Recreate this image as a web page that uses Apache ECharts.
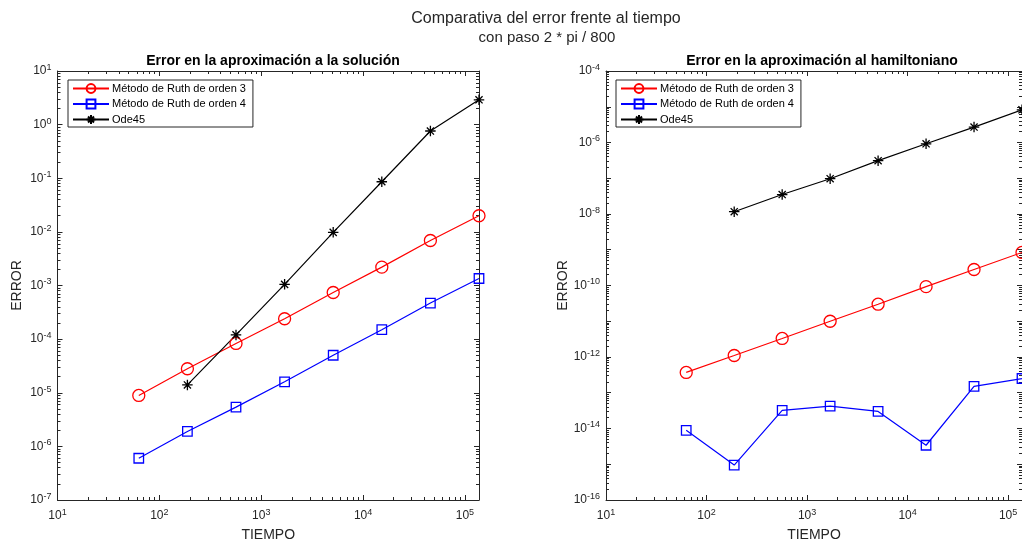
<!DOCTYPE html>
<html>
<head>
<meta charset="utf-8">
<script src="https://cdn.jsdelivr.net/npm/echarts@6/dist/echarts.min.js"></script>
<style>
  html, body { margin: 0; padding: 0; background: #fff; }
  #chart { width: 1022px; height: 547px; }
</style>
</head>
<body>
<div id="chart"></div>
<script>
// tiempos (x) comunes a todas las curvas
const tiempos = [62.8, 188.5, 565.5, 1696.5, 5089.4, 15268.1, 45804.4, 137413.2];

// error en la solucion
const solRuth3 = [8.9e-6, 2.8e-5, 8.3e-5, 2.4e-4, 7.4e-4, 2.2e-3, 6.9e-3, 2.0e-2];
const solRuth4 = [6.0e-7, 1.9e-6, 5.4e-6, 1.6e-5, 5.0e-5, 1.5e-4, 4.7e-4, 1.35e-3];
const solOde45 = [null, 1.4e-5, 1.2e-4, 1.05e-3, 9.8e-3, 0.086, 0.76, 2.9];

// error en el hamiltoniano
const hamRuth3 = [3.7e-13, 1.1e-12, 3.3e-12, 1.0e-11, 3.0e-11, 9.3e-11, 2.8e-10, 8.4e-10];
const hamRuth4 = [8.9e-15, 9.5e-16, 3.2e-14, 4.2e-14, 3.0e-14, 3.4e-15, 1.5e-13, 2.5e-13];
const hamOde45 = [null, 1.16e-8, 3.5e-8, 9.7e-8, 3.1e-7, 9.2e-7, 2.7e-6, 8.2e-6];

const xTicks = [1e1, 1e2, 1e3, 1e4, 1e5];
const ySolTicks = [1e1, 1e0, 1e-1, 1e-2, 1e-3, 1e-4, 1e-5, 1e-6, 1e-7];
const yHamTicks = [1e-4, 1e-6, 1e-8, 1e-10, 1e-12, 1e-14, 1e-16];
const yHamMajor = [1e-4, 1e-5, 1e-6, 1e-7, 1e-8, 1e-9, 1e-10, 1e-11, 1e-12, 1e-13, 1e-14, 1e-15, 1e-16];

const nombres = ['Método de Ruth de orden 3', 'Método de Ruth de orden 4', 'Ode45'];

const AX = '#262626';
const FONT = 'Liberation Sans, Arial, sans-serif';

function minors(lo, hi) {
    const out = [];
    for (let d = Math.floor(Math.log10(lo)); d <= Math.ceil(Math.log10(hi)); d++) {
        for (let k = 2; k <= 9; k++) {
            const v = k * Math.pow(10, d);
            if (v > lo && v < hi) out.push(v);
        }
    }
    return out;
}

function powLabel(v) {
    const e = Math.round(Math.log10(v));
    return '{b|10}{e|' + e + '}';
}
const richPow = {
    b: { fontSize: 12, color: AX, fontFamily: FONT },
    e: { fontSize: 9, color: AX, fontFamily: FONT, padding: [0, 0, 7, 0] }
};

function tickAxes(kind, grid, min, max, majors, labels, name) {
    const pos = kind === 'x' ? ['bottom', 'top'] : ['left', 'right'];
    const list = [];
    pos.forEach((p, i) => {
        list.push({
            type: 'log', logBase: 10, gridIndex: grid, position: p, min: min, max: max,
            axisLine: { show: true, onZero: false, lineStyle: { color: AX, width: 1 } },
            axisTick: { show: true, inside: true, length: 5, customValues: majors, lineStyle: { color: AX } },
            axisLabel: i === 0 ? {
                show: true, customValues: labels, formatter: powLabel, rich: richPow,
                margin: kind === 'x' ? 8 : 6
            } : { show: false },
            splitLine: { show: false },
            name: i === 0 ? name : '',
            nameLocation: 'middle',
            nameGap: kind === 'x' ? 28 : 33,
            nameTextStyle: { fontSize: 14, color: AX, fontFamily: FONT }
        });
        list.push({
            type: 'log', logBase: 10, gridIndex: grid, position: p, min: min, max: max,
            axisLine: { show: false },
            axisTick: { show: true, inside: true, length: 3, customValues: minors(min, max), lineStyle: { color: AX } },
            axisLabel: { show: false },
            splitLine: { show: false }
        });
    });
    return list;
}

const xAxes = [].concat(
    tickAxes('x', 0, 10, tiempos[7], xTicks, xTicks, 'TIEMPO'),
    tickAxes('x', 1, 10, tiempos[7], xTicks, xTicks, 'TIEMPO')
);
const yAxes = [].concat(
    tickAxes('y', 0, 1e-7, 10, ySolTicks, ySolTicks, 'ERROR'),
    tickAxes('y', 1, 1e-16, 1e-4, yHamMajor, yHamTicks, 'ERROR')
);

const ASTER = 'path://M5,0L5,10M0,5L10,5M1.6,1.6L8.4,8.4M1.6,8.4L8.4,1.6';
const estilos = [
    { color: '#ff0000', symbol: 'circle', size: 12 },
    { color: '#0000ff', symbol: 'rect', size: 9.5 },
    { color: '#000000', symbol: ASTER, size: 10.5 }
];

function serie(grid, idx, ys) {
    const st = estilos[idx];
    const data = [];
    tiempos.forEach((t, i) => { if (ys[i] != null) data.push([t, ys[i]]); });
    return {
        name: nombres[idx], type: 'line',
        xAxisIndex: grid * 4, yAxisIndex: grid * 4,
        data: data,
        symbol: st.symbol, symbolSize: st.size, showAllSymbol: true,
        lineStyle: { color: st.color, width: 1.2 },
        itemStyle: { color: 'rgba(0,0,0,0)', borderColor: st.color, borderWidth: 1.3 },
        emphasis: { disabled: true },
        animation: false, clip: true
    };
}

function leyenda(left) {
    return {
        left: left, top: 80, orient: 'vertical',
        data: nombres,
        itemWidth: 36, itemHeight: 11, itemGap: 4.5,
        padding: [3, 7, 2, 4],
        backgroundColor: '#fff', borderColor: AX, borderWidth: 1, borderRadius: 0,
        textStyle: { fontSize: 11, color: '#000', fontFamily: FONT, padding: [0, 0, 0, -2] },
        selectedMode: false
    };
}

const chart = echarts.init(document.getElementById('chart'), null, { renderer: 'canvas' });
chart.setOption({
    animation: false,
    backgroundColor: '#fff',
    title: [
        { text: 'Comparativa del error frente al tiempo', left: 541, textAlign: 'center', top: 6,
          textStyle: { fontSize: 16, fontWeight: 'normal', color: AX, fontFamily: FONT } },
        { text: 'con paso 2 * pi / 800', left: 542, textAlign: 'center', top: 25,
          textStyle: { fontSize: 15, fontWeight: 'normal', color: AX, fontFamily: FONT } },
        { text: 'Error en la aproximación a la solución', left: 268, textAlign: 'center', top: 49,
          textStyle: { fontSize: 14, fontWeight: 'bold', color: '#000', fontFamily: FONT } },
        { text: 'Error en la aproximación al hamiltoniano', left: 817, textAlign: 'center', top: 49,
          textStyle: { fontSize: 14, fontWeight: 'bold', color: '#000', fontFamily: FONT } }
    ],
    legend: [leyenda(68), leyenda(616)],
    grid: [
        { left: 57.5, top: 71, right: 543, bottom: 46, containLabel: false },
        { left: 606, top: 71, right: -5.5, bottom: 46, containLabel: false }
    ],
    xAxis: xAxes,
    yAxis: yAxes,
    series: [
        serie(0, 0, solRuth3), serie(0, 1, solRuth4), serie(0, 2, solOde45),
        serie(1, 0, hamRuth3), serie(1, 1, hamRuth4), serie(1, 2, hamOde45)
    ]
});
</script>
</body>
</html>
